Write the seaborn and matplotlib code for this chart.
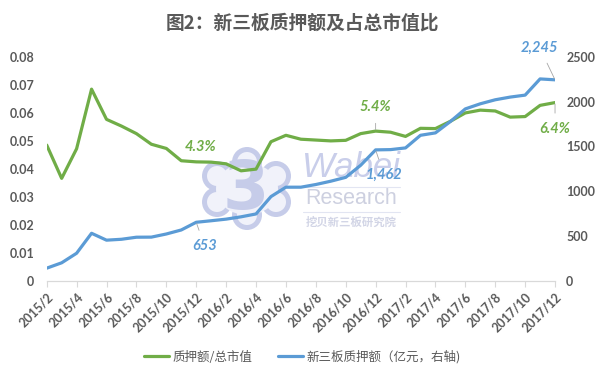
import matplotlib

matplotlib.use("Agg")

import matplotlib.pyplot as plt
import pandas as pd
import seaborn as sns
from matplotlib.lines import Line2D
from matplotlib.patches import Ellipse


MONTHS = [
    "2015/2", "2015/3", "2015/4", "2015/5", "2015/6", "2015/7", "2015/8",
    "2015/9", "2015/10", "2015/11", "2015/12", "2016/1", "2016/2", "2016/3",
    "2016/4", "2016/5", "2016/6", "2016/7", "2016/8", "2016/9", "2016/10",
    "2016/11", "2016/12", "2017/1", "2017/2", "2017/3", "2017/4", "2017/5",
    "2017/6", "2017/7", "2017/8", "2017/9", "2017/10", "2017/11", "2017/12",
]
# 质押额/总市值 (left axis)
RATIO = [
    0.0485, 0.0366, 0.0472, 0.0685, 0.0577, 0.0553, 0.0526,
    0.0488, 0.0473, 0.0429, 0.0425, 0.0424, 0.0418, 0.0393,
    0.0399, 0.0497, 0.0520, 0.0506, 0.0503, 0.0500, 0.0502,
    0.0526, 0.0535, 0.0531, 0.0516, 0.0545, 0.0544, 0.0570,
    0.0600, 0.0610, 0.0607, 0.0585, 0.0587, 0.0627, 0.0637,
]
# 新三板质押额, 亿元 (right axis)
PLEDGE = [
    140, 200, 307, 530, 453, 463, 486,
    487, 522, 567, 653, 670, 688, 714,
    746, 940, 1045, 1045, 1075, 1112, 1155,
    1290, 1462, 1465, 1484, 1625, 1652, 1779,
    1920, 1977, 2022, 2052, 2074, 2255, 2245,
]
TICK_LABELS = MONTHS[::2]
LEFT_TICKS = [0, 0.01, 0.02, 0.03, 0.04, 0.05, 0.06, 0.07, 0.08]
LEFT_TICK_LABELS = ["0", "0.01", "0.02", "0.03", "0.04", "0.05", "0.06", "0.07", "0.08"]
RIGHT_TICKS = [0, 500, 1000, 1500, 2000, 2500]

# (series, month index, text, offset in points, leader line)
CALLOUTS = [
    ("ratio", 10, "4.3%", (3, 11), False),
    ("pledge", 10, "653", (6, -17), True),
    ("ratio", 22, "5.4%", (0, 17), True),
    ("pledge", 22, "1,462", (6, -18), True),
    ("pledge", 34, "2,245", (-11, 23), True),
    ("ratio", 34, "6.4%", (0, -19), True),
]

GREEN = "#70AD47"
BLUE = "#5B9BD5"
TEXT = "#595959"
AXIS_GREY = "#D9D9D9"
MARK = "#C6CCE9"
MARK_FILL = "#F1F2FA"

sns.set_theme(style="white")
plt.rcParams["font.family"] = ["Noto Sans CJK SC", "DejaVu Sans"]

df = pd.DataFrame({"idx": range(len(MONTHS)), "month": MONTHS, "ratio": RATIO, "pledge": PLEDGE})

fig = plt.figure(figsize=(6.05, 3.78), dpi=100)
ax = fig.add_axes([0.0772, 0.2574, 0.8402, 0.5918])
ax2 = ax.twinx()
ax.patch.set_visible(False)

# watermark, drawn under the lines; placed in pixel units of the axes box
px_w, px_h = 508.3, 223.7


def to_ax(px, py):
    return (px - 46.7) / px_w, (280.7 - py) / px_h


def blob(cx, cy, w, h, color, z):
    x0, y0 = to_ax(cx, cy)
    ax.add_patch(Ellipse((x0, y0), w / px_w, h / px_h, transform=ax.transAxes,
                         color=color, lw=0, zorder=z, clip_on=False))


lobes = [(217, 176), (217, 202), (276, 176), (276, 202), (247, 162), (247, 215)]
for cx, cy in lobes:
    blob(cx, cy, 30, 30, MARK, 0.3)
for cx, cy in lobes:
    blob(cx, cy, 20, 20, MARK_FILL, 0.4)
blob(247, 189, 62, 52, MARK_FILL, 0.4)

x0, y0 = to_ax(246, 190)
ax.text(x0, y0, "3", transform=ax.transAxes, ha="center", va="center", fontsize=48,
        fontweight="bold", family="DejaVu Sans", color=MARK, zorder=0.5)
x0, y0 = to_ax(351, 167)
ax.text(x0, y0, "Wabei", transform=ax.transAxes, ha="center", va="center", fontsize=25,
        style="italic", family="Liberation Sans", color="#C9CEEA", zorder=0.5)
x0, y0 = to_ax(351, 198)
ax.text(x0, y0, "Research", transform=ax.transAxes, ha="center", va="center", fontsize=15.5,
        family="Liberation Sans", color="#CDD0E0", zorder=0.5)
x0, y0 = to_ax(351, 222)
ax.text(x0, y0, "挖贝新三板研究院", transform=ax.transAxes, ha="center", va="center",
        fontsize=8.2, fontweight="bold", color="#D2D5E6", zorder=0.5)
for ly in (186.5, 211.5):
    xa, ya = to_ax(303, ly)
    xb, _ = to_ax(400, ly)
    ax.plot([xa, xb], [ya, ya], transform=ax.transAxes, color="#E2E5F2", lw=0.8, zorder=0.5)

sns.lineplot(data=df, x="idx", y="ratio", ax=ax, color=GREEN, linewidth=2.3, zorder=3)
sns.lineplot(data=df, x="idx", y="pledge", ax=ax2, color=BLUE, linewidth=2.3, zorder=3)

ax.set_xlim(0, len(MONTHS) - 1)
ax.set_ylim(0, 0.08)
ax2.set_ylim(0, 2500)

ax.set_xticks(df["idx"][::2])
ax.set_xticklabels(TICK_LABELS, rotation=45, ha="right", rotation_mode="anchor",
                   fontsize=9, fontweight="bold", color=TEXT, family="Lato")
ax.set_yticks(LEFT_TICKS)
ax.set_yticklabels(LEFT_TICK_LABELS, fontsize=9, fontweight="bold", color=TEXT, family="Lato")
ax2.set_yticks(RIGHT_TICKS)
ax2.set_yticklabels([str(v) for v in RIGHT_TICKS], fontsize=9, fontweight="bold",
                    color=TEXT, family="Lato")

ax.tick_params(axis="x", length=4, width=0.8, color=AXIS_GREY, pad=3, bottom=True)
ax.tick_params(axis="y", length=0, pad=9)
ax2.tick_params(axis="y", length=0, pad=8)
ax.set_xlabel("")
ax.set_ylabel("")
ax2.set_ylabel("")

for a in (ax, ax2):
    for side in ("left", "right", "top"):
        a.spines[side].set_visible(False)
ax.spines["bottom"].set_color(AXIS_GREY)
ax.spines["bottom"].set_linewidth(0.9)
ax2.spines["bottom"].set_visible(False)

for series, i, label, offset, leader in CALLOUTS:
    target = ax if series == "ratio" else ax2
    color = GREEN if series == "ratio" else BLUE
    value = df.loc[i, series]
    arrow = dict(arrowstyle="-", color="#A6A6A6", lw=0.6, shrinkA=4, shrinkB=1) if leader else None
    target.annotate(label, xy=(i, value), xytext=offset, textcoords="offset points",
                    ha="center", va="center", fontsize=10.5, fontweight="bold",
                    style="italic", family="Lato", color=color, arrowprops=arrow,
                    zorder=5, annotation_clip=False)

fig.suptitle("图2：新三板质押额及占总市值比", x=0.5, y=0.965, fontsize=13.5,
             fontweight="bold", color=TEXT)

handles = [
    Line2D([], [], color=GREEN, lw=2.3),
    Line2D([], [], color=BLUE, lw=2.3),
]
fig.legend(handles, ["质押额/总市值", "新三板质押额（亿元，右轴)"], loc="center",
           bbox_to_anchor=(0.5, 0.056), ncol=2, frameon=False, fontsize=9,
           labelcolor=TEXT, handlelength=2.0, handletextpad=0.3, columnspacing=2.0)

fig.savefig("out.png", dpi=100)
